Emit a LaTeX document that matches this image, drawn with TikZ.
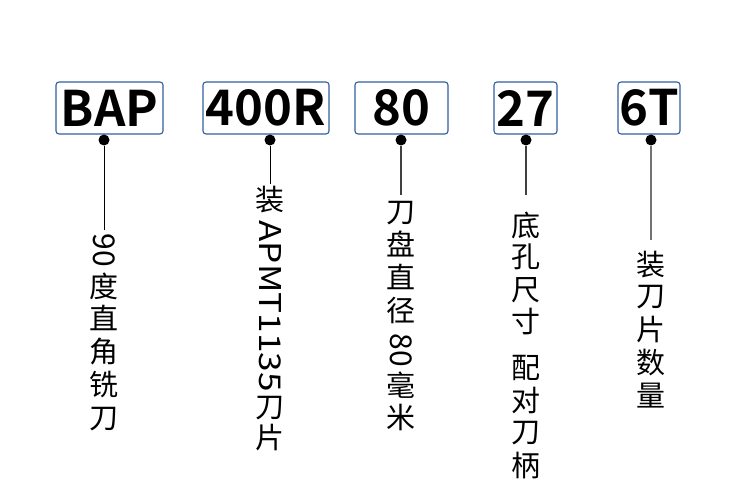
\documentclass[tikz,border=0pt]{standalone}
\usepackage{fontspec}
\setmainfont{Noto Sans CJK SC}
\newfontfamily\cjk{Noto Sans CJK SC}
\newfontfamily\cjkbold{Noto Sans CJK SC Bold}
\definecolor{boxblue}{HTML}{2F5E9E}
\begin{document}
\begin{tikzpicture}[x=1pt,y=-1pt,
  codebox/.style={draw=boxblue, line width=1.1pt, rounded corners=3pt, minimum height=52pt, inner sep=0pt, font=\cjkbold\fontsize{49}{49}\selectfont},
  dotm/.style={circle, fill=black, inner sep=0pt, minimum size=11pt},
  ch/.style={inner sep=0pt, font=\cjk\fontsize{29}{29}\selectfont},
  rt/.style={inner sep=0pt, rotate=-90, font=\cjk\fontsize{30}{30}\selectfont},
  lead/.style={line width=1pt, draw=black}]
\useasboundingbox (0,0) rectangle (750,500);
% boxes
\node[codebox, minimum width=107pt] (b1) at (109.5,108) {BAP};
\node[codebox, minimum width=126pt] (b2) at (266,108) {400R};
\node[codebox, minimum width=93pt] (b3) at (401.5,108) {80};
\node[codebox, minimum width=63pt] (b4) at (525.5,108) {27};
\node[codebox, minimum width=62pt] (b5) at (649,108) {6T};
% dots
\node[dotm] (d1) at (104,140) {};
\node[dotm] (d2) at (270,140) {};
\node[dotm] (d3) at (401,140) {};
\node[dotm] (d4) at (526,140) {};
\node[dotm] (d5) at (651,140) {};
% line ends
\coordinate (e1) at (104,230);
\coordinate (e2) at (270,184);
\coordinate (e3) at (401,195);
\coordinate (e4) at (526,195);
\coordinate (e5) at (651,240);
\draw[lead] (d1) -- (e1);
\draw[lead] (d2) -- (e2);
\draw[lead, draw=black!75, line width=1.3pt] (d3) -- (e3);
\draw[lead, draw=black!75, line width=1.3pt] (d4) -- (e4);
\draw[lead, draw=black!55, line width=2pt] (d5) -- (e5);
% column 1
\node[rt] (c1a) at (104,250) {90};
\foreach \t/\y [count=\i] in {度/286,直/318,角/352,铣/385,刀/419}
  \node[ch] (c1-\i) at (104,\y) {\t};
% column 2
\node[ch] (c2-1) at (270,200) {装};
\node[rt] (c2a) at (270,306) {\scalebox{1.17}[1]{APMT1135}};
\node[ch] (c2-2) at (270,408) {刀};
\node[ch] (c2-3) at (270,438) {片};
% column 3
\foreach \t/\y [count=\i] in {刀/213,盘/244,直/277,径/311}
  \node[ch] (c3-\i) at (401,\y) {\t};
\node[rt] (c3a) at (401,350) {80};
\node[ch] (c3-5) at (401,385) {毫};
\node[ch] (c3-6) at (401,417) {米};
% column 4
\foreach \t/\y [count=\i] in {底/225,孔/257,尺/290,寸/322,配/368,对/400,刀/433,柄/466}
  \node[ch] (c4-\i) at (526,\y) {\t};
% column 5
\foreach \t/\y [count=\i] in {装/265,刀/297,片/330,数/363,量/396}
  \node[ch] (c5-\i) at (651,\y) {\t};
\end{tikzpicture}
\end{document}
